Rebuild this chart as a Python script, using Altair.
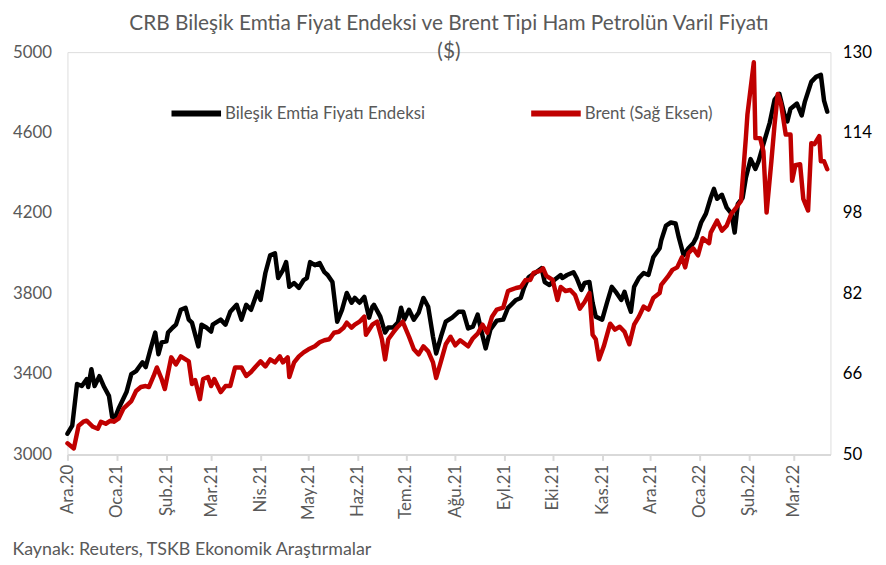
import altair as alt
import pandas as pd

# ---- data ----
start_date = "2020-12-01"
month_names = ["Oca", "Şub", "Mar", "Nis", "May", "Haz", "Tem", "Ağu", "Eyl", "Eki", "Kas", "Ara"]
series_names = ["Bileşik Emtia Fiyatı Endeksi", "Brent (Sağ Eksen)"]
series_colors = ["#000000", "#c00000"]

cmd_days = [0, 3, 6, 9, 12, 13, 15, 17, 20, 23, 26, 28, 30, 32, 37, 40, 43, 47, 49, 52, 55, 57, 59, 62, 63,
            66, 68, 71, 74, 76, 78, 82, 84, 87, 90, 91, 96, 99, 102, 106, 109, 112, 115, 119, 121, 124, 127,
            130, 132, 135, 137, 139, 142, 145, 148, 150, 152, 155, 158, 161, 163, 166, 169, 172, 175, 178,
            180, 183, 186, 189, 191, 192, 196, 199, 201, 204, 207, 209, 211, 214, 217, 220, 223, 226, 229,
            231, 234, 237, 241, 245, 248, 251, 254, 257, 260, 262, 265, 269, 273, 276, 281, 284, 286, 289,
            293, 297, 299, 302, 305, 309, 310, 313, 317, 319, 322, 324, 327, 329, 331, 335, 338, 341, 344,
            347, 349, 351, 353, 355, 358, 361, 364, 367, 371, 372, 375, 378, 381, 383, 386, 389, 392, 394,
            397, 400, 403, 405, 407, 410, 413, 416, 418, 420, 423, 425, 428, 431, 433, 436, 440, 443, 446,
            449, 451, 453, 457, 460, 462, 466, 469, 472, 474, 476]
cmd_values = [3103, 3143, 3350, 3340, 3374, 3335, 3424, 3340, 3389, 3335, 3291, 3187, 3187, 3227, 3310, 3399,
              3414, 3458, 3434, 3522, 3606, 3498, 3557, 3562, 3606, 3631, 3645, 3719, 3729, 3670, 3655, 3537,
              3645, 3631, 3611, 3645, 3670, 3645, 3709, 3744, 3670, 3744, 3719, 3808, 3768, 3902, 3990, 4000,
              3877, 3916, 3956, 3833, 3852, 3828, 3867, 3877, 3956, 3941, 3951, 3906, 3892, 3857, 3660, 3719,
              3803, 3754, 3778, 3754, 3783, 3680, 3734, 3744, 3685, 3606, 3631, 3631, 3655, 3729, 3670, 3719,
              3670, 3704, 3778, 3734, 3586, 3502, 3586, 3660, 3680, 3709, 3709, 3626, 3635, 3695, 3591, 3527,
              3621, 3665, 3670, 3729, 3768, 3778, 3828, 3882, 3902, 3926, 3857, 3842, 3867, 3892, 3877, 3892,
              3906, 3877, 3818, 3852, 3857, 3754, 3685, 3670, 3754, 3833, 3803, 3768, 3808, 3754, 3709, 3833,
              3877, 3902, 3892, 3980, 4025, 4064, 4138, 4153, 4148, 4079, 3990, 4025, 4049, 4079, 4153, 4197,
              4276, 4320, 4271, 4291, 4227, 4197, 4103, 4246, 4276, 4374, 4468, 4419, 4458, 4542, 4650, 4764,
              4793, 4695, 4655, 4719, 4744, 4685, 4754, 4852, 4877, 4887, 4759, 4704]

brent_days = [0, 4, 7, 10, 12, 16, 19, 21, 24, 27, 29, 32, 35, 40, 43, 46, 49, 51, 54, 56, 59, 61, 65, 68, 71,
              74, 76, 78, 80, 83, 85, 88, 90, 92, 96, 99, 102, 105, 109, 112, 115, 118, 121, 124, 127, 130,
              133, 135, 138, 139, 142, 145, 148, 151, 155, 158, 161, 164, 167, 170, 173, 175, 178, 180, 183,
              186, 187, 191, 194, 197, 199, 201, 204, 207, 210, 214, 217, 220, 223, 226, 229, 231, 234, 237,
              240, 243, 246, 251, 254, 257, 260, 263, 266, 269, 273, 276, 281, 284, 287, 290, 292, 296, 298,
              300, 304, 307, 309, 312, 315, 318, 321, 324, 327, 329, 331, 333, 336, 340, 343, 346, 349, 352,
              355, 358, 361, 364, 367, 371, 372, 376, 379, 382, 385, 387, 389, 392, 395, 398, 402, 403, 407,
              410, 413, 416, 419, 422, 425, 426, 430, 431, 434, 436, 438, 441, 443, 445, 447, 450, 453, 454,
              456, 459, 461, 464, 466, 468, 471, 472, 474, 476]
brent_values = [52.2, 51.2, 55.7, 56.5, 56.7, 55.5, 55.1, 56.5, 56.1, 56.7, 56.5, 57.1, 59.1, 60.6, 62.6, 63.4,
                63.6, 63.4, 65.6, 67.3, 65.0, 63.0, 69.3, 67.9, 69.5, 68.9, 68.5, 64.0, 64.8, 61.0, 65.0, 65.4,
                63.6, 65.0, 62.4, 63.6, 63.6, 67.3, 67.3, 65.6, 66.4, 67.5, 68.5, 67.5, 68.9, 68.3, 69.5, 68.3,
                69.3, 65.4, 68.3, 69.5, 70.3, 70.9, 71.5, 72.3, 72.7, 72.9, 74.2, 74.4, 75.2, 76.2, 75.2, 75.8,
                76.4, 77.4, 73.8, 75.8, 76.4, 72.9, 68.9, 72.9, 74.2, 75.4, 76.4, 73.4, 70.9, 69.9, 71.5, 70.5,
                68.3, 65.2, 68.5, 71.9, 73.4, 71.7, 72.7, 71.5, 73.1, 74.0, 75.8, 74.2, 77.4, 78.8, 79.2, 82.5,
                83.1, 83.3, 84.7, 84.7, 86.1, 86.5, 87.0, 85.5, 84.7, 80.7, 83.3, 82.5, 82.7, 81.7, 79.0, 80.3,
                82.1, 73.8, 72.9, 68.9, 71.5, 76.0, 74.8, 75.4, 74.4, 71.9, 75.8, 77.4, 79.4, 78.8, 81.1, 82.1,
                83.7, 85.3, 86.7, 87.2, 89.2, 87.2, 90.0, 91.0, 89.6, 93.0, 92.0, 94.1, 96.5, 94.5, 95.5, 97.9,
                99.1, 100.4, 112.9, 117.6, 128.0, 112.9, 112.9, 110.3, 98.1, 108.3, 115.6, 121.7, 119.8, 113.6,
                113.6, 104.4, 107.5, 107.7, 100.8, 98.5, 111.9, 111.7, 113.3, 108.3, 108.3, 106.7]

left_ticks = [3000, 3400, 3800, 4200, 4600, 5000]
right_ticks = [50, 66, 82, 98, 114, 130]

title_lines = ["CRB Bileşik  Emtia Fiyat Endeksi ve Brent Tipi Ham Petrolün Varil Fiyatı", "($)"]
source_text = "Kaynak: Reuters, TSKB Ekonomik Araştırmalar"

# ---- table ----
t0 = pd.Timestamp(start_date)
df = pd.concat([
    pd.DataFrame({"date": t0 + pd.to_timedelta(cmd_days, unit="D"), "value": cmd_values,
                  "series": series_names[0]}),
    pd.DataFrame({"date": t0 + pd.to_timedelta(brent_days, unit="D"), "value": brent_values,
                  "series": series_names[1]}),
], ignore_index=True)

FONT = "Lato"
GRAY = "#595959"
months_js = "[" + ",".join("'" + m + "'" for m in month_names) + "]"
label_expr = months_js + "[month(datum.value)] + '.' + timeFormat(datum.value, '%y')"

x_enc = alt.X(
    "date:T",
    scale=alt.Scale(domain=[alt.DateTime(year=2020, month=12, date=1),
                            alt.DateTime(year=2022, month=3, date=24)], nice=False),
    axis=alt.Axis(
        title=source_text, titleX=-56, titleY=101, titleAlign="left", titleBaseline="alphabetic",
        titleFontSize=18, titleColor=GRAY, titleFontWeight="normal", titleFont=FONT,
        tickCount={"interval": "month", "step": 1}, labelExpr=label_expr,
        labelAngle=270, labelAlign="right", labelBaseline="middle", labelPadding=4,
        labelFontSize=17, labelColor=GRAY, labelFont=FONT, labelOverlap=False, labelFlush=False,
        grid=False, domainColor="#d9d9d9", domainWidth=2, tickColor="#d9d9d9", tickSize=6, tickWidth=2,
    ),
)

color_enc = alt.Color(
    "series:N",
    scale=alt.Scale(domain=series_names, range=series_colors),
    legend=alt.Legend(
        title=None, orient="none", legendX=102, legendY=34, direction="horizontal",
        symbolType="stroke", symbolSize=2500, symbolStrokeWidth=6, labelFontSize=17,
        labelColor=GRAY, labelFont=FONT, labelOffset=1, labelLimit=0, columnPadding=94, padding=0,
    ),
)

base = alt.Chart(df)

cmd = base.transform_filter(alt.datum.series == series_names[0]).mark_line(
    strokeWidth=4.5, strokeJoin="round", strokeCap="round"
).encode(
    x=x_enc,
    y=alt.Y("value:Q", scale=alt.Scale(domain=[3000, 5000], nice=False, zero=False),
            axis=alt.Axis(title=None, values=left_ticks, format="d", grid=False, domain=False,
                          ticks=False, labelFontSize=17, labelColor=GRAY, labelFont=FONT,
                          labelPadding=16)),
    color=color_enc,
)

brent = base.transform_filter(alt.datum.series == series_names[1]).mark_line(
    strokeWidth=4.5, strokeJoin="round", strokeCap="round"
).encode(
    x=x_enc,
    y=alt.Y("value:Q", scale=alt.Scale(domain=[50, 130], nice=False, zero=False),
            axis=alt.Axis(title=None, orient="right", values=right_ticks, format="d", grid=False,
                          domain=False, ticks=False, labelFontSize=17, labelColor="#000000",
                          labelFont=FONT, labelPadding=12)),
    color=color_enc,
)

chart = alt.layer(cmd, brent).resolve_scale(y="independent").properties(
    width=770, height=406,
    autosize=alt.AutoSizeParams(type="none"),
    padding={"left": 60, "top": 42, "right": 48, "bottom": 103},
    title=alt.TitleParams(text=title_lines, anchor="middle", fontSize=21, font=FONT,
                          color=GRAY, fontWeight="normal", lineHeight=28, offset=-19),
).configure_view(stroke=None).configure(background="white")

chart.save("out.html", embed_options={"renderer": "svg", "actions": False})
